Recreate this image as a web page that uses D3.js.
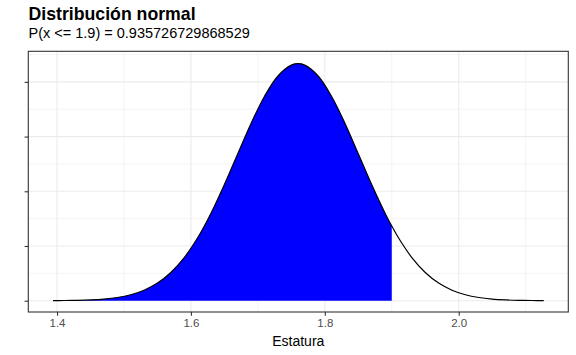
<!DOCTYPE html>
<html><head><meta charset="utf-8">
<script src="https://cdn.jsdelivr.net/npm/d3@7"></script>
<style>body{margin:0;background:#fff}svg{display:block;font-family:"Liberation Sans",Arial,Helvetica,sans-serif}</style>
</head><body>
<svg id="c" width="576" height="355"></svg>
<script>
const title = "Distribución normal";
const subtitle = "P(x <= 1.9) = 0.935726729868529";
const xLabel = "Estatura";
const cutX = 1.9;
const xTicks = [1.4, 1.6, 1.8, 2.0];
const xMinor = [1.5, 1.7, 1.9, 2.1];
const yTicks = [0, 1, 2, 3, 4];
const yMinor = [0.5, 1.5, 2.5, 3.5, 4.5];
const xs = [1.394,1.41,1.43,1.45,1.47,1.49,1.51,1.53,1.55,1.57,1.59,1.61,1.63,1.65,1.67,1.69,1.71,1.73,1.75,1.76,1.77,1.79,1.81,1.83,1.85,1.87,1.89,1.90,1.91,1.93,1.95,1.97,1.99,2.01,2.03,2.05,2.07,2.09,2.11,2.127];
const ys = [0.0016,0.0032,0.0071,0.0150,0.0304,0.0589,0.1089,0.1917,0.3221,0.5160,0.7883,1.150,1.600,2.123,2.687,3.245,3.738,4.108,4.306,4.332,4.306,4.108,3.738,3.245,2.687,2.123,1.600,1.364,1.150,0.788,0.516,0.322,0.192,0.109,0.059,0.030,0.015,0.0071,0.0032,0.0016];

const pts = xs.map((x,i)=>({x, y: ys[i]}));
const svg = d3.select("#c");
const L = 28.3, R = 568.3, T = 51.3, B = 312;
const x = d3.scaleLinear().domain([1.3571, 2.1637]).range([L, R]);
const y = d3.scaleLinear().domain([-0.2066, 4.559]).range([B, T]);

const g = svg.append("g");
g.selectAll(".gxm").data(xMinor).join("line").attr("x1",d=>x(d)).attr("x2",d=>x(d)).attr("y1",T).attr("y2",B).attr("stroke","#ebebeb").attr("stroke-width",0.55);
g.selectAll(".gym").data(yMinor).join("line").attr("y1",d=>y(d)).attr("y2",d=>y(d)).attr("x1",L).attr("x2",R).attr("stroke","#ebebeb").attr("stroke-width",0.55);
g.selectAll(".gx").data(xTicks).join("line").attr("x1",d=>x(d)).attr("x2",d=>x(d)).attr("y1",T).attr("y2",B).attr("stroke","#ebebeb").attr("stroke-width",1.1);
g.selectAll(".gy").data(yTicks).join("line").attr("y1",d=>y(d)).attr("y2",d=>y(d)).attr("x1",L).attr("x2",R).attr("stroke","#ebebeb").attr("stroke-width",1.1);

const fillPts = pts.filter(p => p.x <= cutX);
const area = d3.area().x(d=>x(d.x)).y0(y(0)).y1(d=>y(d.y)).curve(d3.curveCatmullRom);
g.append("path").datum(fillPts).attr("d", area).attr("fill","#0000ff");
const line = d3.line().x(d=>x(d.x)).y(d=>y(d.y)).curve(d3.curveCatmullRom);
g.append("path").datum(pts).attr("d", line).attr("fill","none").attr("stroke","#000").attr("stroke-width",1.2);

g.append("rect").attr("x",L).attr("y",T).attr("width",R-L).attr("height",B-T).attr("fill","none").attr("stroke","#333").attr("stroke-width",1.1);

const xa = svg.append("g").attr("transform",`translate(0,${B})`).call(d3.axisBottom(x).tickValues(xTicks).tickFormat(d3.format(".1f")).tickSize(3.7).tickPadding(3));
xa.select(".domain").remove();
xa.selectAll("line").attr("stroke","#333").attr("stroke-width",1.1);
xa.selectAll("text").attr("fill","#4d4d4d").attr("font-size",11.5).attr("font-family",null);
const ya = svg.append("g").attr("transform",`translate(${L},0)`).call(d3.axisLeft(y).tickValues(yTicks).tickFormat("").tickSize(3.7));
ya.select(".domain").remove();
ya.selectAll("line").attr("stroke","#333").attr("stroke-width",1.1);

svg.append("text").attr("x",(L+R)/2).attr("y",346).attr("text-anchor","middle").attr("font-size",14).attr("fill","#000").text(xLabel);
svg.append("text").attr("x",28.5).attr("y",19.5).attr("font-size",17.7).attr("font-weight","bold").attr("fill","#000").text(title);
svg.append("text").attr("x",28.5).attr("y",38).attr("font-size",14.5).attr("fill","#000").text(subtitle);
</script>
</body></html>
